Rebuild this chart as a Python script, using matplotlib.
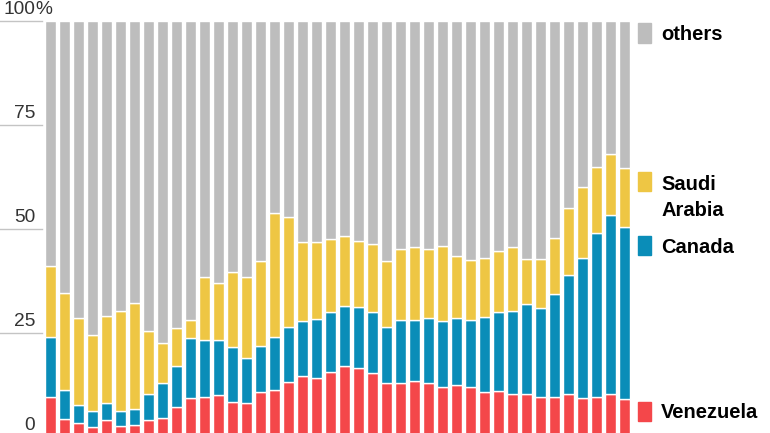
import matplotlib
matplotlib.use('Agg')
import matplotlib.pyplot as plt
import matplotlib.transforms as mtransforms
from matplotlib.patches import Rectangle
import numpy as np

# share of imports, percent, bottom to top
venezuela = [9.5, 4.3, 3.4, 2.5, 4.1, 2.6, 3.0, 4.1, 4.6, 7.1, 9.3, 9.7, 10.1, 8.3,
             8.1, 10.9, 11.3, 13.3, 14.7, 14.3, 15.7, 17.1, 16.7, 15.5, 12.9, 13.1,
             13.5, 12.9, 12.1, 12.5, 11.9, 10.9, 11.1, 10.3, 10.3, 9.5, 9.5, 10.3,
             9.3, 9.7, 10.3, 9.1]
canada = [14.5, 7.0, 4.3, 3.8, 4.1, 3.7, 3.8, 6.2, 8.3, 10.0, 14.6, 13.6, 13.2, 13.4,
          10.8, 11.0, 12.8, 13.1, 13.2, 14.1, 14.4, 14.4, 14.5, 14.6, 13.5, 15.0,
          14.6, 15.8, 15.9, 16.0, 16.2, 17.9, 18.9, 20.1, 21.7, 21.6, 24.9, 28.6,
          33.7, 39.4, 43.1, 41.4]
saudi = [17.2, 23.2, 21.0, 18.2, 21.0, 24.0, 25.5, 15.2, 9.8, 9.2, 4.2, 15.1, 13.8,
         17.9, 19.5, 20.4, 29.8, 26.6, 19.0, 18.4, 17.6, 16.8, 16.0, 16.3, 16.0,
         17.0, 17.5, 16.6, 18.0, 15.0, 14.4, 14.3, 14.7, 15.3, 10.9, 11.8, 13.4,
         16.2, 17.2, 15.9, 14.6, 14.1]
others = [58.8, 65.5, 71.3, 75.5, 70.8, 69.7, 67.7, 74.5, 77.3, 73.7, 71.9, 61.6,
          62.9, 60.4, 61.6, 57.7, 46.1, 47.0, 53.1, 53.2, 52.3, 51.7, 52.8, 53.6,
          57.6, 54.9, 54.4, 54.7, 54.0, 56.5, 57.5, 56.9, 55.3, 54.3, 57.1, 57.1,
          52.2, 44.9, 39.8, 35.0, 32.0, 35.4]

series = [venezuela, canada, saudi, others]
names = ['Venezuela', 'Canada', 'Saudi\nArabia', 'others']
colors = ['#f4474a', '#0a8db8', '#eec644', '#bdbdbd']
yticks = [0, 25, 50, 75, 100]

W, H = 770, 433
fig = plt.figure(figsize=(W / 100, H / 100), dpi=100)
ax = fig.add_axes([43.5 / W, -4 / H, 588 / W, 416 / H])

x = np.arange(len(venezuela))
bottom = np.zeros(len(x))
for vals, c in zip(series, colors):
    ax.bar(x, vals, width=0.82, bottom=bottom, color=c,
           edgecolor='white', linewidth=1.0)
    bottom += np.array(vals)

ax.set_xlim(-0.5, len(x) - 0.5)
ax.set_ylim(0, 100)
ax.axis('off')

# short gridlines and labels in the left margin
trans = mtransforms.blended_transform_factory(ax.transAxes, ax.transData)
lab_x = (35 - 43.5) / 588
for t in yticks:
    ax.plot([-43.5 / 588, -0.002], [t, t], color='#c4c4c4', lw=1.0,
            transform=trans, clip_on=False)
    ax.text(lab_x, t + 1.8, str(t), transform=trans, ha='right', va='baseline',
            fontsize=13.8, family='Liberation Sans', color='#333333')
    if t == 100:
        ax.text(lab_x, t + 1.8, '%', transform=trans, ha='left', va='baseline',
                fontsize=13.8, family='Liberation Sans', color='#333333')

# legend at the right, next to each layer
legend_y = [(402, 421, 418), (236, 255, 253), (172, 191, 190), (23, 43, 40)]
for name, c, (y0, y1, base) in zip(names, colors, legend_y):
    fig.patches.append(Rectangle((638 / W, 1 - y1 / H), 13 / W, (y1 - y0) / H,
                                 transform=fig.transFigure, color=c))
    fig.text(661 / W, 1 - base / H, name.split('\n')[0], ha='left', va='baseline',
             fontsize=14.5, fontweight='bold', family='Liberation Sans', color='black')
    if '\n' in name:
        fig.text(661 / W, 1 - (base + 26) / H, name.split('\n')[1], ha='left',
                 va='baseline', fontsize=14.5, fontweight='bold',
                 family='Liberation Sans', color='black')

fig.savefig('out.png', dpi=100)
plt.close(fig)
